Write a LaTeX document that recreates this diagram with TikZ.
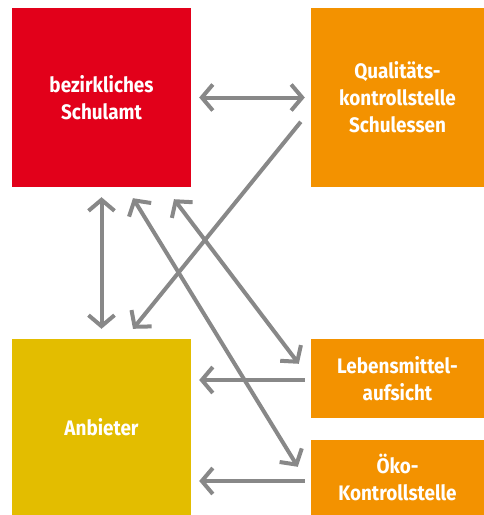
\documentclass[tikz,border=0pt]{standalone}
\usepackage{fontspec}
\setmainfont{Fira Sans}[FakeStretch=0.9]
\usetikzlibrary{arrows.meta}
\definecolor{bred}{HTML}{E2001A}
\definecolor{borange}{HTML}{F39200}
\definecolor{byellow}{HTML}{E3BD00}
\definecolor{agray}{HTML}{888888}
\tikzset{
  box/.style={fill=#1, draw=none, text=white, align=center, inner sep=0pt,
    font=\fontsize{21}{27}\selectfont\bfseries},
  conn/.style={draw=agray, line width=4pt, line cap=butt,
    arrows={-Straight Barb[length=11pt,width=26pt,line cap=butt]}},
  bconn/.style={draw=agray, line width=4pt, line cap=butt,
    arrows={Straight Barb[length=11pt,width=26pt,line cap=butt]-Straight Barb[length=11pt,width=26pt,line cap=butt]}},
}
\begin{document}
\begin{tikzpicture}[x=1pt,y=-1pt]
\useasboundingbox (0,0) rectangle (484,515);
\node[box=bred, minimum width=179pt, minimum height=179pt] (sa) at (101.5,97.5) {bezirkliches\\Schulamt};
\node[box=borange, minimum width=173pt, minimum height=179pt] (qk) at (397.5,97.5) {Qualitäts-\\kontrollstelle\\Schulessen};
\node[box=byellow, minimum width=179pt, minimum height=176pt] (an) at (101.5,427) {Anbieter};
\node[box=borange, minimum width=173pt, minimum height=79pt] (lm) at (397.5,378.5) {Lebensmittel-\\aufsicht};
\node[box=borange, minimum width=173pt, minimum height=75pt] (oko) at (397.5,477.5) {Öko-\\Kontrollstelle};

\draw[bconn] ([xshift=8pt]sa.east) -- ([xshift=-6pt]qk.west);
\draw[bconn] ([yshift=-10pt]sa.south) -- ([yshift=10pt]an.north);
\draw[bconn] ([xshift=31.5pt,yshift=-11pt]sa.south) -- ([xshift=-13pt,yshift=-27pt]oko.north west);
\draw[bconn] ([xshift=72.5pt,yshift=-12pt]sa.south) -- ([xshift=-12pt,yshift=-25pt]lm.north west);
\draw[conn] ([xshift=-10pt,yshift=-114pt]qk.north west) -- ([xshift=31.5pt,yshift=10pt]an.north);
\draw[conn] ([xshift=-6pt]lm.west |- 0,380) -- ([xshift=8pt]an.east |- 0,380);
\draw[conn] ([xshift=-6pt]oko.west |- 0,481) -- ([xshift=8pt]an.east |- 0,481);
\end{tikzpicture}
\end{document}
